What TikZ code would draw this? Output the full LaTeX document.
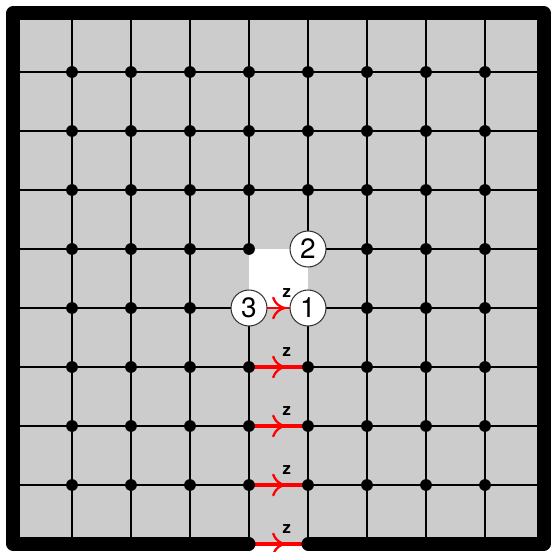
\documentclass[tikz,border=0pt]{standalone}
\usepackage{fontspec}
\setsansfont{TeX Gyre Heros}
\usetikzlibrary{positioning, arrows.meta, decorations.markings}

\begin{document}
\begin{tikzpicture}[
            gridline/.style={line width=0.9pt, black},
            rim/.style={line width=6.3pt, black, line join=round, line cap=round},
            vertex/.style={circle, fill=black, inner sep=0pt, minimum size=0.2cm},
            site/.style={draw=black!80, circle, fill=white, line width=0.5pt, inner sep=0pt, minimum size=0.61cm, font=\sffamily\fontsize{13.5}{14}\selectfont},
            zedge/.style={draw=red, line width=2pt, postaction={decorate},
                decoration={markings, mark=at position 0.62 with {\arrow[red, line width=1.1pt]{Computer Modern Rightarrow[length=6.5pt, width=11pt]}}}},
            zlabel/.style={pos=0.64, above=4.3pt, inner sep=0pt, text=black, font=\sffamily\bfseries\fontsize{8}{8}\selectfont}
        ]
        \useasboundingbox (-0.2203,-0.1356) rectangle (9.1017,9.2203);

        % Gitterpunkte
        \foreach \i in {0,...,9}
            \foreach \j in {0,...,9}
                \coordinate (v-\i-\j) at (\i,\j);

        % Flaeche
        \fill[black!20] (v-0-0) rectangle (v-9-9);
        \fill[white] (v-4-4) rectangle (v-5-5);

        % Kanten
        \foreach \j in {1,2,3,6,7,8} \draw[gridline] (v-0-\j) -- (v-9-\j);
        \foreach \i in {1,2,3,6,7,8} \draw[gridline] (v-\i-0) -- (v-\i-9);
        \draw[gridline] (v-0-5) -- (v-4-5) (v-5-5) -- (v-9-5);
        \draw[gridline] (v-0-4) -- (v-4-4) (v-5-4) -- (v-9-4);
        \draw[gridline] (v-4-0) -- (v-4-4) (v-4-5) -- (v-4-9);
        \draw[gridline] (v-5-0) -- (v-5-4) (v-5-5) -- (v-5-9);

        % z-Kanten
        \foreach \j in {0,...,3}
            \draw[zedge] (v-4-\j) -- (v-5-\j) node[zlabel] {z};
        \draw[zedge, line width=1.3pt] (v-4-4) -- (v-5-4) node[zlabel] {z};

        % Rand
        \draw[rim] (v-4-0) -- (v-0-0) -- (v-0-9) -- (v-9-9) -- (v-9-0) -- (v-5-0);

        % Knoten
        \foreach \i in {1,...,8}
            \foreach \j in {1,...,8}
                \node[vertex] (d-\i-\j) at (v-\i-\j) {};
        \node[site] (n1) at (v-5-4) {1};
        \node[site] (n2) at (v-5-5) {2};
        \node[site] (n3) at (v-4-4) {3};

    \end{tikzpicture}
\end{document}
